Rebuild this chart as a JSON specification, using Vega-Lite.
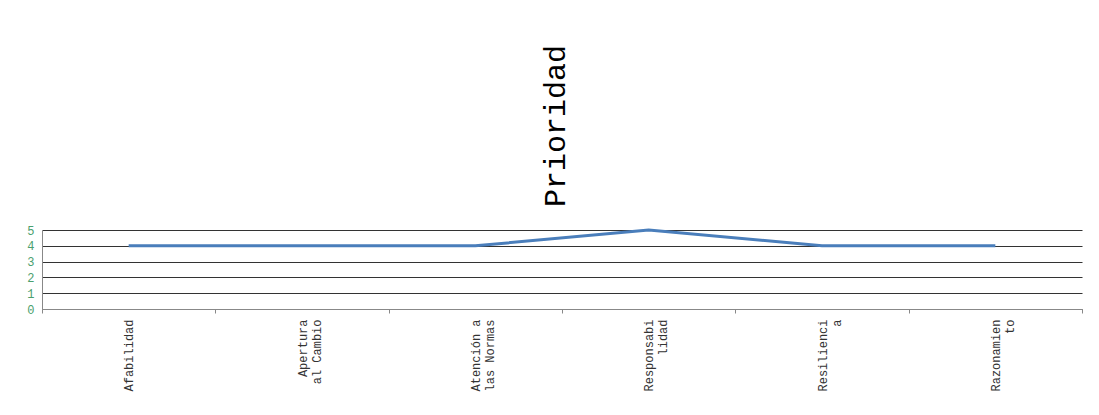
{
  "$schema": "https://vega.github.io/schema/vega-lite/v6.json",
  "width": 1040,
  "height": 79,
  "autosize": {"type": "none"},
  "padding": {"left": 42, "top": 230, "right": 17, "bottom": 106},
  "background": "white",
  "title": {
    "text": "Prioridad",
    "angle": 270,
    "align": "left",
    "baseline": "middle",
    "anchor": "middle",
    "font": "Liberation Mono",
    "fontSize": 30,
    "fontWeight": "normal",
    "color": "#000000",
    "offset": -145,
    "dy": -6
  },
  "data": {
    "values": [
      {"Factor": "Afabilidad", "Prioridad": 4},
      {"Factor": "Apertura al Cambio", "Prioridad": 4},
      {"Factor": "Atención a las Normas", "Prioridad": 4},
      {"Factor": "Responsabilidad", "Prioridad": 5},
      {"Factor": "Resiliencia", "Prioridad": 4},
      {"Factor": "Razonamiento", "Prioridad": 4}
    ]
  },
  "mark": {"type": "line", "color": "#4a7ebb", "strokeWidth": 3},
  "encoding": {
    "x": {
      "field": "Factor",
      "type": "nominal",
      "sort": null,
      "bandPosition": 0.5,
      "scale": {"type": "band", "paddingInner": 0, "paddingOuter": 0},
      "axis": {
        "title": null,
        "labelAngle": 270,
        "labelAlign": "right",
        "labelBaseline": "middle",
        "labelFont": "Liberation Mono",
        "labelFontSize": 12,
        "labelColor": "#333333",
        "labelLineHeight": 14,
        "labelPadding": 6,
        "labelLimit": 0,
        "tickBand": "extent",
        "ticks": true,
        "tickSize": 4,
        "tickColor": "#888888",
        "domainColor": "#888888",
        "grid": false,
        "labelExpr": "length(datum.label) <= 10 ? datum.label : (lastindexof(substring(datum.label,0,11),' ') > 0 ? [substring(datum.label,0,lastindexof(substring(datum.label,0,11),' ')), substring(datum.label,lastindexof(substring(datum.label,0,11),' ')+1)] : [substring(datum.label,0,10), substring(datum.label,10)])"
      }
    },
    "y": {
      "field": "Prioridad",
      "type": "quantitative",
      "scale": {"domain": [0, 5], "nice": false},
      "axis": {
        "title": null,
        "values": [0, 1, 2, 3, 4, 5],
        "labelFont": "Liberation Mono",
        "labelFontSize": 12,
        "labelColor": "#4aa06e",
        "labelPadding": 8,
        "ticks": false,
        "domainColor": "#888888",
        "grid": true,
        "gridColor": "#333333",
        "gridWidth": 1,
        "gridOpacity": 1
      }
    }
  },
  "config": {"view": {"stroke": null}}
}
